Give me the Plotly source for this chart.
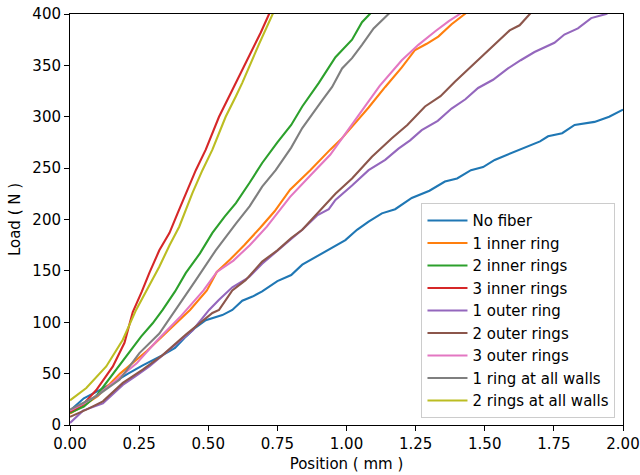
import plotly.graph_objects as go

# ---- data ----
names = ["No fiber", "1 inner ring", "2 inner rings", "3 inner rings", "1 outer ring",
         "2 outer rings", "3 outer rings", "1 ring at all walls", "2 rings at all walls"]
colors = ["#1f77b4", "#ff7f0e", "#2ca02c", "#d62728", "#9467bd",
          "#8c564b", "#e377c2", "#7f7f7f", "#bcbd22"]

no_fiber_x = [0, 0.05, 0.10, 0.155, 0.21, 0.263, 0.335, 0.38, 0.419, 0.45, 0.491, 0.551, 0.587, 0.623,
              0.66, 0.695, 0.75, 0.80, 0.84, 0.90, 0.95, 0.996, 1.038, 1.08, 1.128, 1.176, 1.236, 1.30,
              1.356, 1.40, 1.45, 1.494, 1.536, 1.60, 1.65, 1.70, 1.729, 1.78, 1.825, 1.897, 1.95, 2.0]
no_fiber_y = [14, 26, 33, 41, 50, 58, 68, 75, 86, 94, 102, 107, 112, 121,
              125, 130, 140, 146, 156, 165, 173, 180, 190, 198, 206, 210, 221, 228,
              237, 240, 248, 251, 258, 265, 270, 276, 281, 284, 292, 295, 300, 307]

inner1_x = [0, 0.05, 0.10, 0.181, 0.278, 0.362, 0.434, 0.495, 0.531, 0.579, 0.63, 0.688, 0.74, 0.796,
            0.869, 0.941, 0.98, 1.032, 1.08, 1.14, 1.20, 1.248, 1.29, 1.332, 1.38, 1.428, 1.46]
inner1_y = [11, 19, 28, 50, 72, 94, 112, 131, 149, 161, 175, 192, 208, 229,
            248, 268, 278, 294, 309, 329, 348, 365, 371, 378, 390, 400, 408]

inner2_x = [0, 0.05, 0.10, 0.131, 0.155, 0.215, 0.257, 0.299, 0.335, 0.38, 0.419, 0.47, 0.515, 0.56, 0.60,
            0.65, 0.695, 0.75, 0.80, 0.84, 0.90, 0.96, 1.02, 1.056, 1.086, 1.12]
inner2_y = [12, 18, 30, 41, 49, 70, 86, 99, 112, 130, 148, 167, 187, 203, 216,
            236, 255, 275, 292, 310, 333, 358, 375, 392, 400, 410]

inner3_x = [0, 0.047, 0.095, 0.155, 0.197, 0.227, 0.26, 0.287, 0.323, 0.36, 0.389, 0.431, 0.455, 0.491,
            0.539, 0.587, 0.62, 0.659, 0.69, 0.72, 0.74]
inner3_y = [13, 20, 34, 57, 80, 110, 130, 148, 170, 187, 206, 232, 248, 268,
            300, 326, 344, 365, 382, 400, 410]

outer1_x = [0, 0.047, 0.119, 0.191, 0.24, 0.287, 0.371, 0.443, 0.503, 0.539, 0.587, 0.648, 0.695, 0.75,
            0.80, 0.84, 0.894, 0.936, 0.96, 1.02, 1.08, 1.14, 1.188, 1.23, 1.272, 1.33, 1.38, 1.43, 1.476,
            1.53, 1.584, 1.63, 1.68, 1.752, 1.788, 1.837, 1.885, 1.939, 1.97]
outer1_y = [2, 14, 21, 39, 48, 57, 76, 92, 112, 122, 134, 144, 157, 170,
            181, 190, 204, 210, 219, 233, 248, 258, 269, 277, 287, 296, 308, 317, 328,
            336, 347, 355, 363, 372, 380, 386, 396, 400, 405]

outer2_x = [0, 0.059, 0.119, 0.191, 0.263, 0.335, 0.419, 0.515, 0.539, 0.587, 0.635, 0.695, 0.75, 0.80,
            0.84, 0.894, 0.96, 1.02, 1.092, 1.164, 1.22, 1.284, 1.34, 1.392, 1.464, 1.536, 1.59, 1.626,
            1.662, 1.69]
outer2_y = [8, 15, 23, 41, 54, 68, 88, 109, 112, 131, 141, 159, 170, 182,
            190, 206, 225, 240, 261, 279, 292, 310, 320, 334, 352, 370, 384, 389,
            400, 408]

outer3_x = [0, 0.05, 0.10, 0.155, 0.241, 0.314, 0.398, 0.483, 0.531, 0.591, 0.65, 0.712, 0.796, 0.87,
            0.941, 1.0, 1.056, 1.12, 1.20, 1.26, 1.32, 1.37, 1.41, 1.44]
outer3_y = [14, 21, 29, 41, 60, 82, 105, 131, 149, 160, 175, 193, 222, 243,
            263, 285, 306, 330, 355, 370, 383, 393, 400, 406]

walls1_x = [0, 0.05, 0.095, 0.179, 0.251, 0.323, 0.383, 0.407, 0.455, 0.527, 0.60, 0.65, 0.695, 0.744,
            0.80, 0.84, 0.912, 0.948, 0.984, 1.02, 1.056, 1.098, 1.152, 1.18]
walls1_y = [15, 22, 28, 44, 70, 89, 112, 122, 141, 170, 196, 213, 232, 248,
            270, 289, 316, 329, 347, 357, 370, 386, 400, 406]

walls2_x = [0, 0.059, 0.131, 0.191, 0.239, 0.28, 0.323, 0.36, 0.395, 0.443, 0.479, 0.515, 0.563, 0.60,
            0.623, 0.684, 0.732, 0.75]
walls2_y = [24, 36, 57, 83, 112, 133, 154, 175, 193, 226, 248, 268, 300, 320,
            333, 371, 400, 410]

xs = [no_fiber_x, inner1_x, inner2_x, inner3_x, outer1_x, outer2_x, outer3_x, walls1_x, walls2_x]
ys = [no_fiber_y, inner1_y, inner2_y, inner3_y, outer1_y, outer2_y, outer3_y, walls1_y, walls2_y]

x_ticks = [0, 0.25, 0.5, 0.75, 1.0, 1.25, 1.5, 1.75, 2.0]
y_ticks = [0, 50, 100, 150, 200, 250, 300, 350, 400]

fig = go.Figure()
for i, (n, c, x, y) in enumerate(zip(names, colors, xs, ys)):
    fig.add_trace(go.Scatter(x=x, y=y, mode="lines", name=n,
                             line=dict(color=c, width=2.1)))

font = "DejaVu Sans, Liberation Sans, sans-serif"
FS = 15
axis_common = dict(showgrid=False, zeroline=False, showline=True, linecolor="black", linewidth=1,
                   mirror=True, ticks="outside", ticklen=5, tickwidth=1, tickcolor="black",
                   automargin=False,
                   tickfont=dict(family=font, size=FS, color="black"))
fig.update_layout(
    width=640, height=475,
    margin=dict(l=70, r=17, t=14, b=50),
    plot_bgcolor="white", paper_bgcolor="white",
    font=dict(family=font, size=FS, color="black"),
    xaxis=dict(range=[0, 2.0], tickvals=x_ticks, tickformat=".2f",
               title=dict(text="Position ( mm )", font=dict(family=font, size=FS), standoff=6),
               **axis_common),
    yaxis=dict(range=[0, 400], tickvals=y_ticks,
               title=dict(text="Load ( N )", font=dict(family=font, size=FS), standoff=8),
               **axis_common),
    legend=dict(x=0.9864, y=0.0163, xanchor="right", yanchor="bottom",
                bgcolor="rgba(255,255,255,0.8)", bordercolor="#cccccc", borderwidth=1,
                font=dict(family=font, size=FS), itemwidth=40),
    showlegend=True,
)
fig.write_html("out.html", config={"displayModeBar": False},
               post_script="document.body.style.margin='0';document.body.style.overflow='hidden';")
